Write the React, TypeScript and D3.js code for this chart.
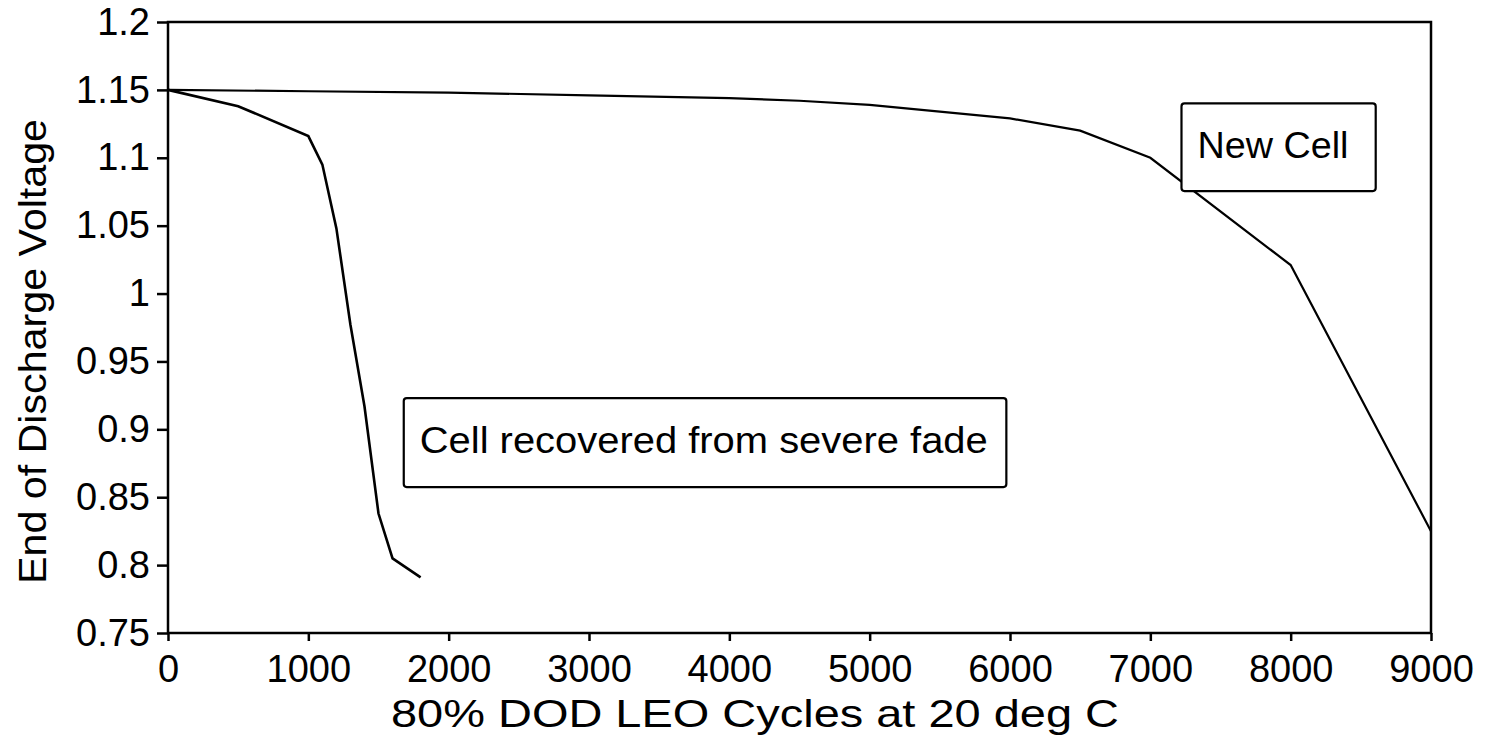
import React, { useEffect, useRef } from 'react';
import * as d3 from 'd3';

interface Point {
  cycles: number;
  volts: number;
}

// New cell
const newCellCycles = [0, 1000, 2000, 3000, 4000, 4500, 5000, 6000, 6500, 7000, 8000, 9000];
const newCellVolts = [1.15, 1.149, 1.148, 1.146, 1.144, 1.142, 1.139, 1.129, 1.12, 1.1, 1.021, 0.825];

// Cell recovered from severe fade
const recoveredCycles = [0, 500, 1000, 1100, 1200, 1300, 1400, 1500, 1600, 1800];
const recoveredVolts = [1.15, 1.138, 1.116, 1.095, 1.048, 0.977, 0.917, 0.838, 0.805, 0.791];

const xTicks = [0, 1000, 2000, 3000, 4000, 5000, 6000, 7000, 8000, 9000];
const yTicks = [0.75, 0.8, 0.85, 0.9, 0.95, 1, 1.05, 1.1, 1.15, 1.2];

const toPoints = (xs: number[], ys: number[]): Point[] =>
  xs.map((c, i) => ({ cycles: c, volts: ys[i] }));

const App: React.FC = () => {
  const svgRef = useRef<SVGSVGElement | null>(null);

  useEffect(() => {
    if (!svgRef.current) return;
    const svg = d3.select(svgRef.current);
    svg.selectAll('*').remove();

    const width = 1487;
    const height = 735;
    const margin = { top: 22, right: 56, bottom: 102, left: 168 };
    const font = "'Liberation Sans', Arial, Helvetica, sans-serif";

    const x = d3.scaleLinear().domain([0, 9000]).range([margin.left, width - margin.right]);
    const y = d3.scaleLinear().domain([0.75, 1.2]).range([height - margin.bottom, margin.top]);

    svg.attr('width', width).attr('height', height).style('font-family', font);

    // frame
    svg.append('rect')
      .attr('x', x(0))
      .attr('y', y(1.2))
      .attr('width', x(9000) - x(0))
      .attr('height', y(0.75) - y(1.2))
      .attr('fill', 'none')
      .attr('stroke', '#000')
      .attr('stroke-width', 2.5);

    // y axis ticks + labels
    const yAxis = d3.axisLeft(y)
      .tickValues(yTicks)
      .tickSize(11)
      .tickPadding(7)
      .tickFormat(d => String(+d));
    const gy = svg.append('g').attr('transform', `translate(${x(0)},0)`).call(yAxis);
    gy.select('.domain').remove();
    gy.selectAll('line').attr('stroke-width', 2.5);
    gy.selectAll('text')
      .attr('font-size', 38)
      .attr('font-family', font)
      .attr('fill', '#000');

    // x axis ticks + labels
    const xAxis = d3.axisBottom(x)
      .tickValues(xTicks)
      .tickSize(8)
      .tickPadding(14)
      .tickFormat(d => String(d));
    const gx = svg.append('g').attr('transform', `translate(0,${y(0.75)})`).call(xAxis);
    gx.select('.domain').remove();
    gx.selectAll('line').attr('stroke-width', 2.5);
    gx.selectAll('text')
      .attr('font-size', 38)
      .attr('font-family', font)
      .attr('fill', '#000');

    // axis titles
    svg.append('text')
      .attr('transform', `translate(46,${(y(0.75) + y(1.2)) / 2 + 24}) rotate(-90)`)
      .attr('text-anchor', 'middle')
      .attr('font-size', 39)
      .attr('textLength', 465)
      .attr('lengthAdjust', 'spacingAndGlyphs')
      .text('End of Discharge Voltage');

    svg.append('text')
      .attr('x', 755)
      .attr('y', 727)
      .attr('text-anchor', 'middle')
      .attr('font-size', 39)
      .attr('textLength', 728)
      .attr('lengthAdjust', 'spacingAndGlyphs')
      .text('80% DOD LEO Cycles at 20 deg C');

    const line = d3.line<Point>()
      .x(d => x(d.cycles))
      .y(d => y(d.volts));

    svg.append('path')
      .datum(toPoints(newCellCycles, newCellVolts))
      .attr('fill', 'none')
      .attr('stroke', '#000')
      .attr('stroke-width', 2.2)
      .attr('d', line);

    svg.append('path')
      .datum(toPoints(recoveredCycles, recoveredVolts))
      .attr('fill', 'none')
      .attr('stroke', '#000')
      .attr('stroke-width', 2.6)
      .attr('d', line);

    // annotation boxes (data coords)
    const boxes = [
      { x0: 7222, x1: 8606, y0: 1.14, y1: 1.0755, label: 'New Cell', len: 151 },
      { x0: 1680, x1: 5974, y0: 0.923, y1: 0.8575, label: 'Cell recovered from severe fade', len: 568 }
    ];
    boxes.forEach(b => {
      svg.append('rect')
        .attr('x', x(b.x0))
        .attr('y', y(b.y0))
        .attr('width', x(b.x1) - x(b.x0))
        .attr('height', y(b.y1) - y(b.y0))
        .attr('rx', 3)
        .attr('fill', '#fff')
        .attr('stroke', '#000')
        .attr('stroke-width', 2.2);
      svg.append('text')
        .attr('x', x(b.x0) + 16)
        .attr('y', y(b.y0) + 55)
        .attr('font-size', 37)
        .attr('textLength', b.len)
        .attr('lengthAdjust', 'spacingAndGlyphs')
        .text(b.label);
    });
  }, []);

  return (
    <div style={{ position: 'absolute', left: 0, top: 0, background: '#fff' }}>
      <svg ref={svgRef} style={{ display: 'block' }}></svg>
    </div>
  );
};

export default App;
